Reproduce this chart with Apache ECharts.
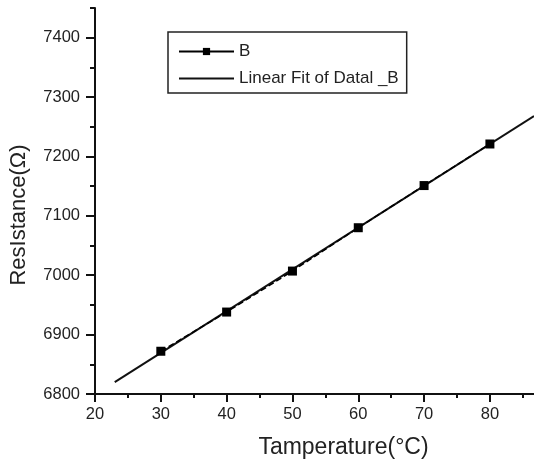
<!DOCTYPE html>
<html>
<head>
<meta charset="utf-8">
<script src="https://cdn.jsdelivr.net/npm/echarts@6/dist/echarts.min.js"></script>
<style>
html,body{margin:0;padding:0;background:#fff;}
#chart{width:534px;height:464px;}
</style>
</head>
<body>
<div id="chart"></div>
<script>
// Data
var temps = [30, 40, 50, 60, 70, 80];
var resistB = [6872, 6938, 7007, 7080, 7151, 7221];
var fitX = [23, 86.7];
var fitY = [6820, 7268];
var xMajorTicks = [20, 30, 40, 50, 60, 70, 80];
var xMinorTicks = [20, 25, 30, 35, 40, 45, 50, 55, 60, 65, 70, 75, 80, 85];
var yMajorTicks = [6800, 6900, 7000, 7100, 7200, 7300, 7400];
var yMinorTicks = [6800, 6850, 6900, 6950, 7000, 7050, 7100, 7150, 7200, 7250, 7300, 7350, 7400, 7450];
var xRange = [20, 86.7];
var yRange = [6800, 7450];

var font = 'Liberation Sans, Arial, Helvetica, sans-serif';
var chart = echarts.init(document.getElementById('chart'), null, {renderer: 'canvas'});

function zip(a, b) { return a.map(function (v, i) { return [v, b[i]]; }); }
function plain(v) { return String(v); }

var axisBase = {
  type: 'value',
  splitLine: {show: false},
  axisLine: {show: true, onZero: false, lineStyle: {color: '#111', width: 2}}
};

var option = {
  backgroundColor: '#fff',
  animation: false,
  grid: {left: 94, top: 8, right: 0, bottom: 69, containLabel: false},
  legend: {
    orient: 'vertical',
    left: 168, top: 32,
    padding: [11, 8, 6, 10],
    borderColor: '#222', borderWidth: 1.5,
    itemWidth: 55, itemHeight: 9, itemGap: 10,
    textStyle: {fontFamily: font, fontSize: 17, color: '#222'},
    data: [
      {name: 'B', lineStyle: {type: 'solid', width: 2}},
      {name: 'Linear Fit of Datal _B', itemStyle: {color: 'rgba(0,0,0,0)', borderWidth: 0, opacity: 0}}
    ]
  },
  xAxis: [
    Object.assign({}, axisBase, {
      min: xRange[0], max: xRange[1],
      name: 'Tamperature(°C)', nameLocation: 'middle', nameGap: 42,
      nameTextStyle: {fontFamily: font, fontSize: 23, color: '#222', padding: [0, 0, 0, 58]},
      axisTick: {show: true, inside: false, length: 8, customValues: xMajorTicks, lineStyle: {color: '#111', width: 2}},
      axisLabel: {fontFamily: font, fontSize: 16.5, color: '#222', margin: 12, customValues: xMajorTicks, formatter: plain}
    }),
    Object.assign({}, axisBase, {
      min: xRange[0], max: xRange[1],
      axisLine: {show: false, onZero: false},
      axisTick: {show: true, inside: false, length: 4, customValues: xMinorTicks, lineStyle: {color: '#111', width: 2}},
      axisLabel: {show: false},
      position: 'bottom'
    })
  ],
  yAxis: [
    Object.assign({}, axisBase, {
      min: yRange[0], max: yRange[1],
      name: 'ResIstance(Ω)', nameLocation: 'middle', nameGap: 65,
      nameTextStyle: {fontFamily: font, fontSize: 22, color: '#222', padding: [0, 28, 0, 0]},
      axisTick: {show: true, inside: false, length: 9, customValues: yMajorTicks, lineStyle: {color: '#111', width: 2}},
      axisLabel: {fontFamily: font, fontSize: 16.5, color: '#222', margin: 15, customValues: yMajorTicks, formatter: plain}
    }),
    Object.assign({}, axisBase, {
      min: yRange[0], max: yRange[1],
      axisLine: {show: false, onZero: false},
      axisTick: {show: true, inside: false, length: 5, customValues: yMinorTicks, lineStyle: {color: '#111', width: 2}},
      axisLabel: {show: false},
      position: 'left'
    })
  ],
  series: [
    {
      name: 'B', type: 'line', xAxisIndex: 0, yAxisIndex: 0,
      data: zip(temps, resistB),
      symbol: 'rect', symbolSize: 9,
      itemStyle: {color: '#000'},
      lineStyle: {color: '#000', width: 1.5, type: [6, 3]},
      z: 3
    },
    {
      name: 'Linear Fit of Datal _B', type: 'line', xAxisIndex: 0, yAxisIndex: 0,
      data: zip(fitX, fitY),
      symbol: 'none',
      clip: true,
      lineStyle: {color: '#111', width: 2},
      itemStyle: {color: '#111'},
      z: 2
    }
  ]
};
chart.setOption(option);
</script>
</body>
</html>
